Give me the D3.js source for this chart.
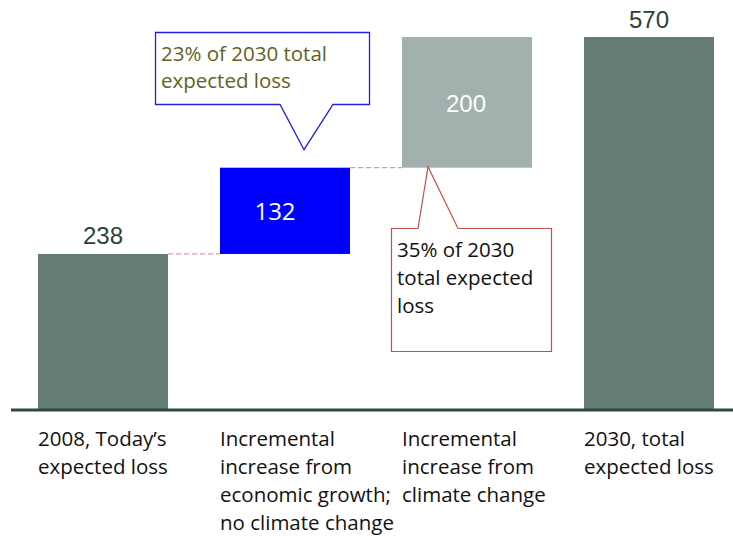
<!DOCTYPE html>
<html>
<head>
<meta charset="utf-8">
<script src="https://cdn.jsdelivr.net/npm/d3@7"></script>
<style>
  html, body { margin: 0; padding: 0; background: #fff; }
  svg { display: block; }
</style>
</head>
<body>
<svg id="chart" width="733" height="536"></svg>
<script>
// Expected loss waterfall: today -> growth -> climate -> 2030 total
const categories = [
  ["2008, Today\u2019s", "expected loss"],
  ["Incremental", "increase from", "economic growth;", "no climate change"],
  ["Incremental", "increase from", "climate change"],
  ["2030, total", "expected loss"]
];
const values = [238, 132, 200, 570];
const kinds = ["total", "step", "step", "total"];
const barColors = ["#647d77", "#0000ff", "#a2b1ad", "#647d77"];
const calloutLines = [
  ["23% of 2030 total", "expected loss"],
  ["35% of 2030", "total expected", "loss"]
];

const svg = d3.select("#chart");
const labelFont = "'Open Sans', Lato, sans-serif";
const numFont = "'Liberation Sans', Arial, sans-serif";
const labelSize = 20.5;

// running start/end of each bar
let run = 0;
const bars = values.map((v, i) => {
  let y0, y1;
  if (kinds[i] === "total") { y0 = 0; y1 = v; run = v; }
  else { y0 = run; y1 = run + v; run = y1; }
  return { i, v, y0, y1, kind: kinds[i], color: barColors[i] };
});

const x = d3.scaleBand().domain(d3.range(values.length)).range([38, 714]).paddingInner(0.2857).paddingOuter(0);
const y = d3.scaleLinear().domain([0, 570]).range([409.5, 37]);

// dashed connectors between consecutive bars
for (let k = 0; k < 2; k++) {
  const a = bars[k], b = bars[k + 1];
  svg.append("line")
    .attr("x1", x(a.i) + x.bandwidth()).attr("x2", x(b.i))
    .attr("y1", y(a.y1)).attr("y2", y(a.y1))
    .attr("stroke", "#e09a9a").attr("stroke-width", 1.3)
    .attr("stroke-dasharray", "5,3");
}

svg.selectAll("rect.bar").data(bars).join("rect")
  .attr("class", "bar")
  .attr("x", d => x(d.i)).attr("width", x.bandwidth())
  .attr("y", d => y(d.y1)).attr("height", d => y(d.y0) - y(d.y1))
  .attr("fill", d => d.color);

// baseline axis
svg.append("line")
  .attr("x1", 11).attr("x2", 733)
  .attr("y1", y(0) + 0.5).attr("y2", y(0) + 0.5)
  .attr("stroke", "#2e4740").attr("stroke-width", 3.2);

// value labels
const cx = d => x(d.i) + x.bandwidth() / 2;
svg.append("text").attr("x", cx(bars[0])).attr("y", y(bars[0].y1) - 10)
  .attr("text-anchor", "middle").attr("font-family", numFont).attr("font-size", 24)
  .attr("fill", "#2c4239").text(values[0]);
svg.append("text").attr("x", cx(bars[3])).attr("y", y(bars[3].y1) - 9)
  .attr("text-anchor", "middle").attr("font-family", numFont).attr("font-size", 24)
  .attr("fill", "#2c4239").text(values[3]);
svg.append("text").attr("x", cx(bars[1]) - 10).attr("y", (y(bars[1].y0) + y(bars[1].y1)) / 2 + 9)
  .attr("text-anchor", "middle").attr("font-family", labelFont).attr("font-size", 24)
  .attr("fill", "#ffffff").text(values[1]);
svg.append("text").attr("x", cx(bars[2]) - 1).attr("y", y(bars[2].y1) + 75)
  .attr("text-anchor", "middle").attr("font-family", numFont).attr("font-size", 24)
  .attr("fill", "#ffffff").text(values[2]);

// category labels
categories.forEach((lines, i) => {
  const t = svg.append("text").attr("font-family", labelFont).attr("font-size", labelSize).attr("fill", "#111");
  lines.forEach((s, j) => {
    t.append("tspan").attr("x", x(i)).attr("y", 446 + j * 28).text(s);
  });
});

// callout 1: blue box pointing down at the growth bar
{
  const b = bars[1];
  const L = 155.5, R = 369.5, T = 32.5, B = 104.5;
  const tipX = x(b.i) + 84, tipY = y(b.y1) - 18;
  const p = [[L, T], [R, T], [R, B], [333, B], [tipX, tipY], [280, B], [L, B]];
  svg.append("path").attr("d", d3.line()(p) + "Z")
    .attr("fill", "#fff").attr("stroke", "#1f1fe6").attr("stroke-width", 1.3);
  const t = svg.append("text").attr("font-family", labelFont).attr("font-size", labelSize).attr("fill", "#5f6322");
  calloutLines[0].forEach((s, j) => t.append("tspan").attr("x", 161).attr("y", 61 + j * 27).text(s));
}

// callout 2: red box pointing up at the climate bar
{
  const b = bars[2];
  const L = 391.5, R = 551.5, T = 228.5, B = 351.5;
  const tipX = x(b.i) + 26, tipY = y(b.y0) - 1;
  const p = [[L, T], [418, T], [tipX, tipY], [458, T], [R, T], [R, B], [L, B]];
  svg.append("path").attr("d", d3.line()(p) + "Z")
    .attr("fill", "#fff").attr("stroke", "#c0504d").attr("stroke-width", 1.2);
  const t = svg.append("text").attr("font-family", labelFont).attr("font-size", labelSize).attr("fill", "#111");
  calloutLines[1].forEach((s, j) => t.append("tspan").attr("x", 397).attr("y", 257 + j * 28).text(s));
}
</script>
</body>
</html>
